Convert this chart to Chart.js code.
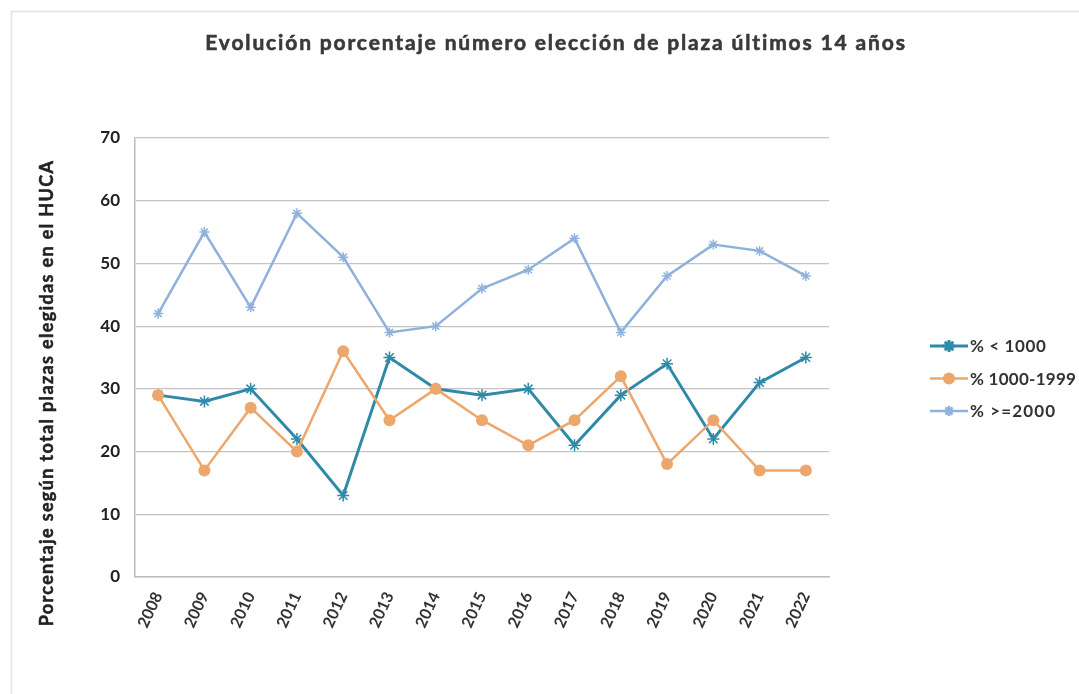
<!DOCTYPE html>
<html>
<head>
<meta charset="utf-8">
<script src="https://cdn.jsdelivr.net/npm/chart.js@4.4.0/dist/chart.umd.min.js"></script>
<style>
  html, body { margin: 0; padding: 0; background: #fff; }
  #wrap { width: 1079px; height: 694px; position: relative; }
</style>
</head>
<body>
<div id="wrap"><canvas id="grafico" width="1079" height="694"></canvas></div>
<script>
// Datos
var anios = ['2008', '2009', '2010', '2011', '2012', '2013', '2014', '2015', '2016', '2017', '2018', '2019', '2020', '2021', '2022'];
var menos1000 = [29, 28, 30, 22, 13, 35, 30, 29, 30, 21, 29, 34, 22, 31, 35];
var entre1000y1999 = [29, 17, 27, 20, 36, 25, 30, 25, 21, 25, 32, 18, 25, 17, 17];
var mas2000 = [42, 55, 43, 58, 51, 39, 40, 46, 49, 54, 39, 48, 53, 52, 48];
var ticksY = [0, 10, 20, 30, 40, 50, 60, 70];

var titulo = 'Evolución porcentaje número elección de plaza últimos 14 años';
var tituloEjeY = 'Porcentaje según total plazas elegidas en el HUCA';

var colorTeal = '#2f8aa8';
var colorNaranja = '#eda66b';
var colorAzul = '#8fb2dc';
var fuente = 'Lato, "Open Sans", sans-serif';

var series = [
    { nombre: '% < 1000', datos: menos1000, color: colorTeal, punto: 'star', radio: 6, ancho: 3 },
    { nombre: '% 1000-1999', datos: entre1000y1999, color: colorNaranja, punto: 'circle', radio: 6, ancho: 2.5 },
    { nombre: '% >=2000', datos: mas2000, color: colorAzul, punto: 'star', radio: 5, ancho: 2.5 }
];

// Escribe un texto estirándolo con espaciado hasta el ancho pedido (trazo fino para engrosar)
function textoAncho(ctx, texto, x, y, ancho, trazo) {
    ctx.letterSpacing = '0px';
    var w = ctx.measureText(texto).width;
    var extra = (ancho - w) / (texto.length - 1);
    if (extra > 0) ctx.letterSpacing = extra.toFixed(2) + 'px';
    ctx.fillText(texto, x, y);
    if (trazo) {
        ctx.lineWidth = trazo;
        ctx.strokeStyle = ctx.fillStyle;
        ctx.strokeText(texto, x, y);
    }
    ctx.letterSpacing = '0px';
}

// Plugin para título, eje Y, leyenda y marco
var extras = {
    id: 'extras',
    beforeDraw: function(chart) {
        var ctx = chart.ctx;
        ctx.save();
        ctx.fillStyle = '#fff';
        ctx.fillRect(0, 0, chart.width, chart.height);
        ctx.strokeStyle = '#e2e2e2';
        ctx.lineWidth = 1.5;
        ctx.beginPath();
        ctx.moveTo(11.5, chart.height);
        ctx.lineTo(11.5, 11.5);
        ctx.lineTo(chart.width, 11.5);
        ctx.stroke();
        ctx.restore();
    },
    afterDraw: function(chart) {
        var ctx = chart.ctx;
        ctx.save();
        // título
        ctx.fillStyle = '#3a3a3a';
        ctx.font = 'bold 21px ' + fuente;
        ctx.textAlign = 'center';
        ctx.textBaseline = 'middle';
        textoAncho(ctx, titulo, 556, 43, 700, 0.6);
        // título eje Y
        ctx.translate(47, 393);
        ctx.rotate(-Math.PI / 2);
        ctx.font = 'bold 18px ' + fuente;
        ctx.fillStyle = '#222';
        textoAncho(ctx, tituloEjeY, 0, 0, 465, 0.5);
        ctx.restore();

        // leyenda
        ctx.save();
        ctx.font = 'bold 17px ' + fuente;
        ctx.textAlign = 'left';
        ctx.textBaseline = 'middle';
        series.forEach(function(s, i) {
            var y = 346 + i * 32.5;
            ctx.strokeStyle = s.color;
            ctx.lineWidth = s.ancho;
            ctx.beginPath();
            ctx.moveTo(930, y);
            ctx.lineTo(968, y);
            ctx.stroke();
            ctx.fillStyle = s.color;
            Chart.helpers.drawPoint(ctx, {
                pointStyle: s.punto,
                radius: s.radio,
                borderWidth: s.punto === 'circle' ? 0 : 1.5,
                rotation: 0
            }, 949, y);
            ctx.fillStyle = '#333';
            textoAncho(ctx, s.nombre, 970, y + 1, [76, 106, 85][i], 0);
        });
        ctx.restore();
    }
};

var ctx = document.getElementById('grafico').getContext('2d');
var grafico = new Chart(ctx, {
    type: 'line',
    data: {
        labels: anios,
        datasets: series.map(function(s) {
            return {
                label: s.nombre,
                data: s.datos,
                borderColor: s.color,
                backgroundColor: s.color,
                borderWidth: s.ancho,
                pointStyle: s.punto,
                pointRadius: s.radio,
                pointBorderWidth: s.punto === 'circle' ? 0 : 1.5,
                pointBorderColor: s.color,
                pointBackgroundColor: s.color,
                tension: 0
            };
        }).reverse()
    },
    options: {
        responsive: false,
        animation: false,
        layout: { padding: { top: 138, right: 250, left: 0, bottom: 0 } },
        plugins: {
            legend: { display: false },
            title: { display: false },
            tooltip: { enabled: false }
        },
        scales: {
            x: {
                offset: true,
                grid: { display: false, drawTicks: false },
                border: { display: true, color: '#bdbdbd', width: 1.5 },
                ticks: {
                    color: '#333',
                    font: { family: fuente, size: 16, weight: 'bold' },
                    minRotation: 65,
                    maxRotation: 65,
                    padding: 12
                },
                afterFit: function(scale) { scale.height = 117; }
            },
            y: {
                min: 0,
                max: 70,
                afterBuildTicks: function(scale) {
                    scale.ticks = ticksY.map(function(v) { return { value: v }; });
                },
                grid: { color: '#c4c4c4', lineWidth: 1.2, drawTicks: false },
                border: { display: true, color: '#bdbdbd', width: 1.5 },
                ticks: {
                    color: '#222',
                    font: { family: fuente, size: 17, weight: 'bold' },
                    padding: 15
                },
                afterFit: function(scale) { scale.width = 135; }
            }
        }
    },
    plugins: [extras]
});
</script>
</body>
</html>
